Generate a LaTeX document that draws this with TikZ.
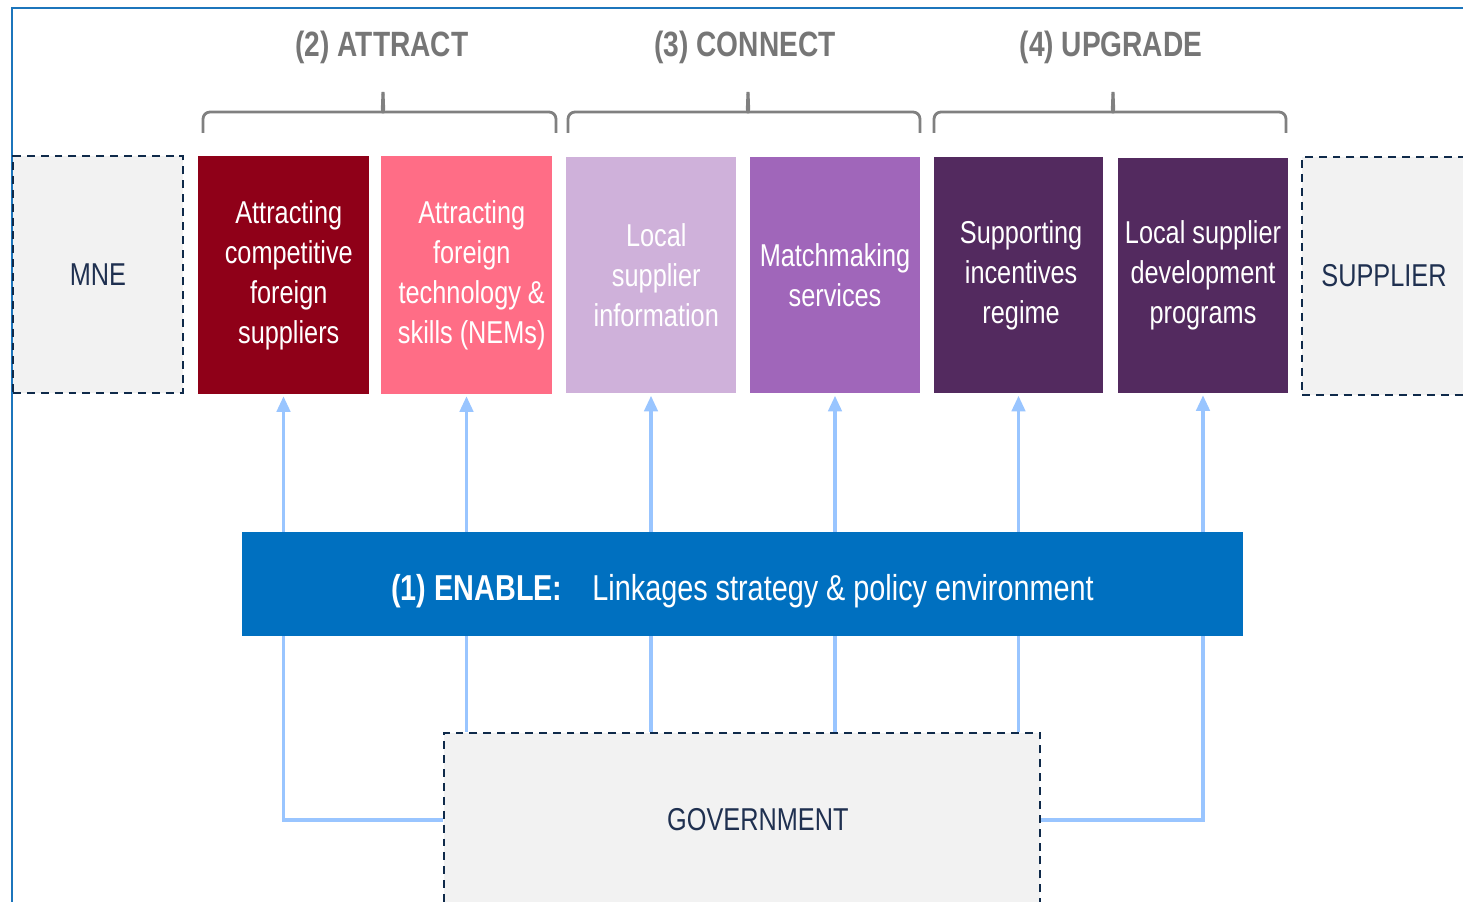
\documentclass[tikz,border=0pt]{standalone}
\usepackage{fontspec}
\setmainfont{Liberation Sans}[FakeStretch=0.8]
\usetikzlibrary{arrows.meta,backgrounds}
\definecolor{frameblue}{HTML}{1C75BC}
\definecolor{darkred}{HTML}{8F0018}
\definecolor{pinkc}{HTML}{FF6D86}
\definecolor{lavender}{HTML}{CFB1DA}
\definecolor{purplec}{HTML}{A066BA}
\definecolor{darkpurple}{HTML}{532A5F}
\definecolor{enableblue}{HTML}{0070C0}
\definecolor{arrowblue}{HTML}{99C5FF}
\definecolor{bracegray}{HTML}{808080}
\definecolor{headgray}{HTML}{767676}
\definecolor{boxgray}{HTML}{F2F2F2}
\definecolor{navy}{HTML}{0F2A4A}
\definecolor{navytext}{HTML}{1F3050}
\begin{document}
\begin{tikzpicture}[x=0.02cm,y=-0.02cm,
  boxtext/.style={font=\fontsize{18}{22.7}\selectfont, align=center},
  stage/.style={boxtext, inner sep=0pt, text=white, minimum width=3.40cm, minimum height=4.74cm},
  actor/.style={boxtext, inner sep=0pt, text=navytext, fill=boxgray, draw=navy, line width=1.3pt, dash pattern=on 4.5pt off 3.4pt},
  head/.style={font=\fontsize{20}{24}\selectfont\bfseries, text=headgray},
  bracestyle/.style={draw=bracegray, line width=1.6pt, line join=round},
  link/.style={draw=arrowblue, line width=2.2pt},
  arrowlink/.style={link, -{Triangle[width=7.5pt,length=9pt]}, shorten >=1pt},
]
\useasboundingbox (0,0) rectangle (1463,902);
\fill[white] (0,0) rectangle (1463,902);
% frame
\draw[frameblue, line width=1.1pt] (12,902) -- (12,8) -- (1470,8);

% headers
\node[head] (h2) at (382,47) {(2) ATTRACT};
\node[head] (h3) at (745,47) {(3) CONNECT};
\node[head] (h4) at (1111,47) {(4) UPGRADE};

% braces
\draw[bracestyle, rounded corners=0.14cm] (203,133) -- (203,112) -- (377,112) .. controls (382,112) .. (383,92);
\draw[bracestyle, rounded corners=0.14cm] (383,92) .. controls (384,112) .. (389,112) -- (556,112) -- (556,133);
\draw[bracestyle, rounded corners=0.14cm] (568,133) -- (568,112) -- (742,112) .. controls (747,112) .. (748,92);
\draw[bracestyle, rounded corners=0.14cm] (748,92) .. controls (749,112) .. (754,112) -- (920,112) -- (920,133);
\draw[bracestyle, rounded corners=0.14cm] (934,133) -- (934,112) -- (1107,112) .. controls (1112,112) .. (1113,92);
\draw[bracestyle, rounded corners=0.14cm] (1113,92) .. controls (1114,112) .. (1119,112) -- (1286,112) -- (1286,133);

% actors
\node[actor, minimum width=3.40cm, minimum height=4.74cm] (mne) at (98,274.5) {MNE};
\node[actor, minimum width=3.28cm, minimum height=4.76cm] (sup) at (1384,276) {SUPPLIER};

% stage boxes
\node[stage, fill=darkred, minimum width=3.42cm, minimum height=4.76cm] (b1) at (283.5,275) {\hspace*{6pt}Attracting\\\hspace*{6pt}competitive\\\hspace*{6pt}foreign\\\hspace*{6pt}suppliers};
\node[stage, fill=pinkc, minimum width=3.42cm, minimum height=4.76cm] (b2) at (466.5,275) {\hspace*{6pt}Attracting\\\hspace*{6pt}foreign\\\hspace*{6pt}technology \&\\\hspace*{6pt}skills (NEMs)};
\node[stage, fill=lavender] (b3) at (651,275) {\hspace*{6pt}Local\\\hspace*{6pt}supplier\\\hspace*{6pt}information};
\node[stage, fill=purplec] (b4) at (835,275) {Matchmaking\\services};
\node[stage, fill=darkpurple, minimum width=3.38cm] (b5) at (1018.5,275) {\hspace*{3pt}Supporting\\\hspace*{3pt}incentives\\\hspace*{3pt}regime};
\node[stage, fill=darkpurple, minimum height=4.70cm] (b6) at (1203,275.5) {Local supplier\\development\\programs};

% government
\node[actor, minimum width=11.92cm, minimum height=3.48cm] (gov) at (742,820) {\hspace*{18pt}\raisebox{-1.5pt}{GOVERNMENT}};

% connectors (behind enable bar)
\draw[arrowlink] (gov.north -| b2.south) -- (b2.south);
\draw[arrowlink] (gov.north -| b3.south) -- (b3.south);
\draw[arrowlink] (gov.north -| b4.south) -- (b4.south);
\draw[arrowlink] (gov.north -| b5.south) -- (b5.south);
\draw[arrowlink] (gov.west) -| (b1.south);
\draw[arrowlink] (gov.east) -| (b6.south);

% enable bar
\node[fill=enableblue, text=white, inner sep=0pt, minimum width=20.02cm, minimum height=2.08cm, text height=19.2pt, text depth=0pt, font=\fontsize{20.5}{24}\selectfont] (enable) at (742.5,584) {\textbf{(1) ENABLE:}\hspace{17pt}Linkages strategy \& policy environment};
\end{tikzpicture}
\end{document}
